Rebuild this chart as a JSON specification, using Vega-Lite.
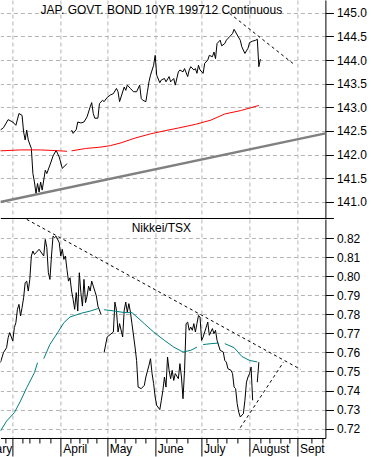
{
  "$schema": "https://vega.github.io/schema/vega-lite/v6.json",
  "padding": {"left": -36.6, "top": 0, "right": 0, "bottom": 0},
  "spacing": 0,
  "config": {
    "view": {"stroke": null},
    "font": "Liberation Sans",
    "axis": {"labelFont": "Liberation Sans", "labelFontSize": 12, "labelColor": "#000000", "domainColor": "#000000", "tickColor": "#000000", "gridColor": "#b4b4b4", "gridDash": [4, 3], "gridWidth": 1, "labelOverlap": false},
    "text": {"font": "Liberation Sans", "fontSize": 12, "color": "#000000"}
  },
  "datasets": {
    "jgb": [
      {"d": "1997-02-21", "v": 142.52}, {"d": "1997-02-23", "v": 142.57}, {"d": "1997-02-26", "v": 142.74},
      {"d": "1997-03-01", "v": 142.69}, {"d": "1997-03-03", "v": 142.62}, {"d": "1997-03-05", "v": 142.87},
      {"d": "1997-03-07", "v": 142.83}, {"d": "1997-03-08", "v": 142.48}, {"d": "1997-03-09", "v": 142.31},
      {"d": "1997-03-10", "v": 142.52}, {"d": "1997-03-11", "v": 142.31}, {"d": "1997-03-13", "v": 142.13},
      {"d": "1997-03-14", "v": 141.60}, {"d": "1997-03-15", "v": 141.42}, {"d": "1997-03-16", "v": 141.18},
      {"d": "1997-03-17", "v": 141.39}, {"d": "1997-03-18", "v": 141.21}, {"d": "1997-03-19", "v": 141.42},
      {"d": "1997-03-20", "v": 141.25}, {"d": "1997-03-22", "v": 141.67}, {"d": "1997-03-23", "v": 141.60},
      {"d": "1997-03-25", "v": 141.78}, {"d": "1997-03-27", "v": 141.97}, {"d": "1997-03-29", "v": 142.09},
      {"d": "1997-03-31", "v": 141.95}, {"d": "1997-04-02", "v": 141.71}, {"d": "1997-04-03", "v": 141.74},
      {"d": "1997-04-05", "v": 141.81}, {"d": "1997-04-06", "v": null}, {"d": "1997-04-08", "v": 142.52},
      {"d": "1997-04-09", "v": 142.45}, {"d": "1997-04-11", "v": 142.53}, {"d": "1997-04-12", "v": 142.69},
      {"d": "1997-04-14", "v": 142.67}, {"d": "1997-04-16", "v": 142.69}, {"d": "1997-04-18", "v": 142.80},
      {"d": "1997-04-20", "v": 143.01}, {"d": "1997-04-21", "v": 143.10}, {"d": "1997-04-22", "v": 142.87},
      {"d": "1997-04-23", "v": 142.77}, {"d": "1997-04-25", "v": 142.77}, {"d": "1997-04-26", "v": 143.08},
      {"d": "1997-04-28", "v": 143.15}, {"d": "1997-04-29", "v": 143.12}, {"d": "1997-05-01", "v": 143.21},
      {"d": "1997-05-03", "v": 143.26}, {"d": "1997-05-05", "v": 143.29}, {"d": "1997-05-07", "v": 143.40},
      {"d": "1997-05-08", "v": 143.33}, {"d": "1997-05-09", "v": 143.12}, {"d": "1997-05-12", "v": 143.43},
      {"d": "1997-05-13", "v": 143.36}, {"d": "1997-05-14", "v": 143.47}, {"d": "1997-05-16", "v": 143.40},
      {"d": "1997-05-18", "v": 143.33}, {"d": "1997-05-20", "v": 143.33}, {"d": "1997-05-22", "v": 143.47},
      {"d": "1997-05-23", "v": 143.19}, {"d": "1997-05-24", "v": 143.15}, {"d": "1997-05-26", "v": 143.12},
      {"d": "1997-05-27", "v": 143.33}, {"d": "1997-05-28", "v": 143.54}, {"d": "1997-05-29", "v": 143.68},
      {"d": "1997-05-31", "v": 143.89}, {"d": "1997-06-01", "v": 144.10}, {"d": "1997-06-02", "v": 143.68},
      {"d": "1997-06-04", "v": 143.52}, {"d": "1997-06-05", "v": 143.58}, {"d": "1997-06-07", "v": 143.61},
      {"d": "1997-06-08", "v": 143.54}, {"d": "1997-06-10", "v": 143.65}, {"d": "1997-06-11", "v": 143.54},
      {"d": "1997-06-13", "v": 143.61}, {"d": "1997-06-14", "v": 143.47}, {"d": "1997-06-16", "v": 143.75},
      {"d": "1997-06-17", "v": 143.79}, {"d": "1997-06-19", "v": 143.75}, {"d": "1997-06-20", "v": 143.82},
      {"d": "1997-06-22", "v": 143.65}, {"d": "1997-06-23", "v": 143.79}, {"d": "1997-06-24", "v": 143.86},
      {"d": "1997-06-26", "v": 143.79}, {"d": "1997-06-27", "v": 143.82}, {"d": "1997-06-28", "v": 143.72},
      {"d": "1997-06-29", "v": 143.89}, {"d": "1997-06-30", "v": 143.79}, {"d": "1997-07-02", "v": 143.72},
      {"d": "1997-07-03", "v": 143.93}, {"d": "1997-07-05", "v": 144.00}, {"d": "1997-07-06", "v": 144.10},
      {"d": "1997-07-08", "v": 144.07}, {"d": "1997-07-09", "v": 144.17}, {"d": "1997-07-10", "v": 144.03},
      {"d": "1997-07-11", "v": 144.35}, {"d": "1997-07-13", "v": 144.42}, {"d": "1997-07-14", "v": 144.30},
      {"d": "1997-07-16", "v": 144.35}, {"d": "1997-07-17", "v": 144.42}, {"d": "1997-07-19", "v": 144.49},
      {"d": "1997-07-21", "v": 144.56}, {"d": "1997-07-22", "v": 144.65}, {"d": "1997-07-24", "v": 144.53},
      {"d": "1997-07-26", "v": 144.42}, {"d": "1997-07-27", "v": 144.28}, {"d": "1997-07-29", "v": 144.14},
      {"d": "1997-07-31", "v": 144.25}, {"d": "1997-08-01", "v": 144.37}, {"d": "1997-08-03", "v": 144.40},
      {"d": "1997-08-05", "v": 144.42}, {"d": "1997-08-06", "v": 144.44}, {"d": "1997-08-07", "v": 143.86},
      {"d": "1997-08-08", "v": 144.02}
    ],
    "jgbma": [
      {"d": "1997-02-21", "v": 142.08}, {"d": "1997-03-06", "v": 142.10}, {"d": "1997-03-19", "v": 142.10},
      {"d": "1997-04-01", "v": 142.08}, {"d": "1997-04-05", "v": 142.07}, {"d": "1997-04-06", "v": null},
      {"d": "1997-04-08", "v": 142.08}, {"d": "1997-04-17", "v": 142.13}, {"d": "1997-04-27", "v": 142.16},
      {"d": "1997-05-03", "v": 142.19}, {"d": "1997-05-10", "v": 142.25}, {"d": "1997-05-19", "v": 142.35},
      {"d": "1997-05-29", "v": 142.44}, {"d": "1997-06-08", "v": 142.51}, {"d": "1997-06-17", "v": 142.57},
      {"d": "1997-06-27", "v": 142.64}, {"d": "1997-07-07", "v": 142.73}, {"d": "1997-07-16", "v": 142.86},
      {"d": "1997-07-26", "v": 142.93}, {"d": "1997-08-07", "v": 143.04}
    ],
    "jgbtrend": [{"d": "1997-02-21", "v": 141.00}, {"d": "1997-09-19", "v": 142.45}],
    "jgbdash": [{"d": "1997-07-19", "v": 144.99}, {"d": "1997-08-29", "v": 143.93}],
    "nt": [
      {"d": "1997-02-21", "v": 0.7546}, {"d": "1997-02-23", "v": 0.7599}, {"d": "1997-02-25", "v": 0.7625},
      {"d": "1997-02-26", "v": 0.7677}, {"d": "1997-02-27", "v": 0.7704}, {"d": "1997-03-01", "v": 0.7660},
      {"d": "1997-03-02", "v": 0.7730}, {"d": "1997-03-03", "v": 0.7756}, {"d": "1997-03-04", "v": 0.7826},
      {"d": "1997-03-05", "v": 0.7852}, {"d": "1997-03-06", "v": 0.7791}, {"d": "1997-03-07", "v": 0.7835},
      {"d": "1997-03-08", "v": 0.7887}, {"d": "1997-03-09", "v": 0.7966}, {"d": "1997-03-10", "v": 0.7974},
      {"d": "1997-03-11", "v": 0.7922}, {"d": "1997-03-12", "v": 0.7983}, {"d": "1997-03-13", "v": 0.8106},
      {"d": "1997-03-14", "v": 0.8132}, {"d": "1997-03-15", "v": 0.8114}, {"d": "1997-03-16", "v": 0.8123},
      {"d": "1997-03-18", "v": 0.8141}, {"d": "1997-03-21", "v": 0.8106}, {"d": "1997-03-22", "v": 0.8193},
      {"d": "1997-03-23", "v": 0.8150}, {"d": "1997-03-24", "v": 0.8018}, {"d": "1997-03-25", "v": 0.7983},
      {"d": "1997-03-26", "v": 0.8106}, {"d": "1997-03-27", "v": 0.8210}, {"d": "1997-03-28", "v": 0.8202},
      {"d": "1997-03-29", "v": 0.8210}, {"d": "1997-03-31", "v": 0.8176}, {"d": "1997-04-01", "v": 0.8106},
      {"d": "1997-04-02", "v": 0.8141}, {"d": "1997-04-03", "v": 0.8088}, {"d": "1997-04-04", "v": 0.8106},
      {"d": "1997-04-05", "v": 0.8036}, {"d": "1997-04-06", "v": 0.7974}, {"d": "1997-04-07", "v": 0.7992},
      {"d": "1997-04-08", "v": 0.7922}, {"d": "1997-04-09", "v": 0.7878}, {"d": "1997-04-10", "v": 0.7826},
      {"d": "1997-04-11", "v": 0.7914}, {"d": "1997-04-12", "v": 0.7817}, {"d": "1997-04-13", "v": 0.8018},
      {"d": "1997-04-14", "v": 0.7914}, {"d": "1997-04-15", "v": 0.7843}, {"d": "1997-04-16", "v": 0.7983},
      {"d": "1997-04-17", "v": 0.7861}, {"d": "1997-04-18", "v": 0.7896}, {"d": "1997-04-19", "v": 0.7948},
      {"d": "1997-04-20", "v": 0.7922}, {"d": "1997-04-21", "v": 0.7974}, {"d": "1997-04-22", "v": 0.7948},
      {"d": "1997-04-23", "v": 0.7922}, {"d": "1997-04-24", "v": 0.7896}, {"d": "1997-04-25", "v": 0.7843},
      {"d": "1997-04-27", "v": 0.7800}, {"d": "1997-04-28", "v": null}, {"d": "1997-04-29", "v": 0.7599},
      {"d": "1997-05-01", "v": 0.7681}, {"d": "1997-05-05", "v": 0.7707}, {"d": "1997-05-06", "v": 0.7864},
      {"d": "1997-05-07", "v": 0.7821}, {"d": "1997-05-08", "v": 0.7707}, {"d": "1997-05-09", "v": 0.7751},
      {"d": "1997-05-11", "v": 0.7681}, {"d": "1997-05-12", "v": 0.7821}, {"d": "1997-05-13", "v": 0.7864},
      {"d": "1997-05-14", "v": 0.7812}, {"d": "1997-05-15", "v": 0.7856}, {"d": "1997-05-16", "v": 0.7812},
      {"d": "1997-05-17", "v": 0.7751}, {"d": "1997-05-19", "v": 0.7628}, {"d": "1997-05-20", "v": 0.7558},
      {"d": "1997-05-21", "v": 0.7418}, {"d": "1997-05-23", "v": 0.7410}, {"d": "1997-05-25", "v": 0.7427},
      {"d": "1997-05-26", "v": 0.7471}, {"d": "1997-05-28", "v": 0.7532}, {"d": "1997-05-29", "v": 0.7567},
      {"d": "1997-05-30", "v": 0.7489}, {"d": "1997-05-31", "v": 0.7436}, {"d": "1997-06-01", "v": 0.7366},
      {"d": "1997-06-02", "v": 0.7322}, {"d": "1997-06-04", "v": 0.7300}, {"d": "1997-06-05", "v": 0.7349},
      {"d": "1997-06-06", "v": 0.7401}, {"d": "1997-06-07", "v": 0.7471}, {"d": "1997-06-08", "v": 0.7418},
      {"d": "1997-06-09", "v": 0.7576}, {"d": "1997-06-10", "v": 0.7506}, {"d": "1997-06-11", "v": 0.7462},
      {"d": "1997-06-12", "v": 0.7506}, {"d": "1997-06-13", "v": 0.7453}, {"d": "1997-06-14", "v": 0.7489},
      {"d": "1997-06-16", "v": 0.7462}, {"d": "1997-06-17", "v": 0.7541}, {"d": "1997-06-18", "v": 0.7471},
      {"d": "1997-06-19", "v": 0.7357}, {"d": "1997-06-20", "v": 0.7506}, {"d": "1997-06-21", "v": 0.7751},
      {"d": "1997-06-22", "v": 0.7759}, {"d": "1997-06-23", "v": 0.7716}, {"d": "1997-06-24", "v": 0.7733},
      {"d": "1997-06-25", "v": 0.7716}, {"d": "1997-06-26", "v": 0.7751}, {"d": "1997-06-27", "v": 0.7707},
      {"d": "1997-06-28", "v": 0.7751}, {"d": "1997-06-29", "v": 0.7794}, {"d": "1997-06-30", "v": 0.7786},
      {"d": "1997-07-01", "v": 0.7663}, {"d": "1997-07-02", "v": 0.7681}, {"d": "1997-07-04", "v": 0.7733},
      {"d": "1997-07-05", "v": 0.7759}, {"d": "1997-07-06", "v": 0.7690}, {"d": "1997-07-08", "v": 0.7725},
      {"d": "1997-07-09", "v": 0.7698}, {"d": "1997-07-10", "v": 0.7716}, {"d": "1997-07-11", "v": 0.7663},
      {"d": "1997-07-13", "v": 0.7611}, {"d": "1997-07-15", "v": 0.7602}, {"d": "1997-07-16", "v": 0.7558},
      {"d": "1997-07-17", "v": 0.7549}, {"d": "1997-07-18", "v": 0.7515}, {"d": "1997-07-20", "v": 0.7506},
      {"d": "1997-07-21", "v": 0.7489}, {"d": "1997-07-22", "v": 0.7418}, {"d": "1997-07-23", "v": 0.7410},
      {"d": "1997-07-24", "v": 0.7331}, {"d": "1997-07-25", "v": 0.7287}, {"d": "1997-07-26", "v": 0.7261},
      {"d": "1997-07-28", "v": 0.7279}, {"d": "1997-07-29", "v": 0.7349}, {"d": "1997-07-30", "v": 0.7444},
      {"d": "1997-07-31", "v": 0.7471}, {"d": "1997-08-01", "v": 0.7489}, {"d": "1997-08-02", "v": 0.7523},
      {"d": "1997-08-03", "v": 0.7349}, {"d": "1997-08-04", "v": null}, {"d": "1997-08-06", "v": 0.7444},
      {"d": "1997-08-07", "v": 0.7549}
    ],
    "ntma": [
      {"d": "1997-02-21", "v": 0.7187}, {"d": "1997-02-25", "v": 0.7240}, {"d": "1997-03-02", "v": 0.7284},
      {"d": "1997-03-06", "v": 0.7345}, {"d": "1997-03-10", "v": 0.7415}, {"d": "1997-03-15", "v": 0.7494},
      {"d": "1997-03-17", "v": 0.7546}, {"d": "1997-03-19", "v": null}, {"d": "1997-03-21", "v": 0.7567},
      {"d": "1997-03-25", "v": 0.7642}, {"d": "1997-03-30", "v": 0.7704}, {"d": "1997-04-03", "v": 0.7756},
      {"d": "1997-04-07", "v": 0.7786}, {"d": "1997-04-14", "v": 0.7805}, {"d": "1997-04-20", "v": 0.7817},
      {"d": "1997-04-25", "v": 0.7830}, {"d": "1997-04-27", "v": null}, {"d": "1997-04-29", "v": 0.7824},
      {"d": "1997-05-06", "v": 0.7817}, {"d": "1997-05-12", "v": 0.7809}, {"d": "1997-05-17", "v": 0.7809},
      {"d": "1997-05-25", "v": 0.7751}, {"d": "1997-05-31", "v": 0.7707}, {"d": "1997-06-07", "v": 0.7663},
      {"d": "1997-06-13", "v": 0.7628}, {"d": "1997-06-19", "v": 0.7602}, {"d": "1997-06-24", "v": 0.7611},
      {"d": "1997-06-28", "v": 0.7628}, {"d": "1997-06-30", "v": null}, {"d": "1997-07-02", "v": 0.7641},
      {"d": "1997-07-07", "v": 0.7646}, {"d": "1997-07-12", "v": 0.7649}, {"d": "1997-07-14", "v": null},
      {"d": "1997-07-16", "v": 0.7646}, {"d": "1997-07-22", "v": 0.7625}, {"d": "1997-07-27", "v": 0.7579},
      {"d": "1997-08-01", "v": 0.7558}, {"d": "1997-08-06", "v": 0.7550}
    ],
    "ntdash1": [{"d": "1997-03-10", "v": 0.8298}, {"d": "1997-09-03", "v": 0.7511}],
    "ntdash2": [{"d": "1997-07-26", "v": 0.7205}, {"d": "1997-08-23", "v": 0.7550}],
    "t1": [{"label": "JAP. GOVT. BOND 10YR 199712 Continuous"}],
    "t2": [{"label": "Nikkei/TSX"}]
  },
  "vconcat": [
    {
      "width": 325,
      "height": 218,
      "layer": [
        {
          "data": {"name": "jgb"},
          "mark": {"type": "line", "color": "#000000", "strokeWidth": 1, "clip": true, "invalid": "break-paths-show-domains"},
          "encoding": {
            "x": {"field": "d", "type": "temporal", "title": null,
              "scale": {"type": "utc", "domain": [{"year": 1997, "month": 2, "date": 21, "utc": true}, {"year": 1997, "month": 9, "date": 19, "utc": true}]},
              "axis": {"values": [
                {"year": 1997, "month": 3, "date": 1, "utc": true},
                {"year": 1997, "month": 4, "date": 1, "utc": true}, {"year": 1997, "month": 5, "date": 1, "utc": true},
                {"year": 1997, "month": 6, "date": 1, "utc": true}, {"year": 1997, "month": 7, "date": 1, "utc": true},
                {"year": 1997, "month": 8, "date": 1, "utc": true}, {"year": 1997, "month": 9, "date": 1, "utc": true}],
                "tickCount": 500, "ticks": false, "labels": false, "grid": true, "domain": true, "domainWidth": 1}},
            "y": {"field": "v", "type": "quantitative", "title": null,
              "scale": {"domain": [140.66, 145.27], "nice": false, "zero": false},
              "axis": {"orient": "right", "values": [140.66, 141, 141.5, 142, 142.5, 143, 143.5, 144, 144.5, 145],
                "tickCount": 500,
                "labelExpr": "datum.value < 140.9 ? '' : format(datum.value, '.1f')",
                "labelFontSize": {"condition": {"test": "datum.value < 140.9", "value": 0}, "value": 12},
                "grid": true, "tickSize": 8, "labelPadding": 3, "domainWidth": 1}}
          }
        },
        {
          "data": {"name": "jgbma"},
          "mark": {"type": "line", "color": "#ff0000", "strokeWidth": 1, "clip": true, "invalid": "break-paths-show-domains"},
          "encoding": {
            "x": {"field": "d", "type": "temporal", "title": null, "scale": {"type": "utc", "domain": [{"year": 1997, "month": 2, "date": 21, "utc": true}, {"year": 1997, "month": 9, "date": 19, "utc": true}]}},
            "y": {"field": "v", "type": "quantitative", "title": null, "scale": {"domain": [140.66, 145.27], "nice": false, "zero": false}}
          }
        },
        {
          "data": {"name": "jgbtrend"},
          "mark": {"type": "line", "color": "#808080", "strokeWidth": 2.5, "clip": true},
          "encoding": {
            "x": {"field": "d", "type": "temporal", "title": null, "scale": {"type": "utc", "domain": [{"year": 1997, "month": 2, "date": 21, "utc": true}, {"year": 1997, "month": 9, "date": 19, "utc": true}]}},
            "y": {"field": "v", "type": "quantitative", "title": null, "scale": {"domain": [140.66, 145.27], "nice": false, "zero": false}}
          }
        },
        {
          "data": {"name": "jgbdash"},
          "mark": {"type": "line", "color": "#000000", "strokeWidth": 1, "strokeDash": [3, 3], "clip": true},
          "encoding": {
            "x": {"field": "d", "type": "temporal", "title": null, "scale": {"type": "utc", "domain": [{"year": 1997, "month": 2, "date": 21, "utc": true}, {"year": 1997, "month": 9, "date": 19, "utc": true}]}},
            "y": {"field": "v", "type": "quantitative", "title": null, "scale": {"domain": [140.66, 145.27], "nice": false, "zero": false}}
          }
        },
        {
          "data": {"name": "t1"},
          "mark": {"type": "text", "align": "center", "baseline": "alphabetic", "fontSize": 12, "font": "Liberation Sans", "color": "#000000"},
          "encoding": {
            "x": {"datum": {"year": 1997, "month": 6, "date": 5, "utc": true}, "type": "temporal", "scale": {"type": "utc", "domain": [{"year": 1997, "month": 2, "date": 21, "utc": true}, {"year": 1997, "month": 9, "date": 19, "utc": true}]}},
            "y": {"datum": 144.975, "type": "quantitative", "scale": {"domain": [140.66, 145.27], "nice": false, "zero": false}},
            "text": {"field": "label"}
          }
        }
      ]
    },
    {
      "width": 325,
      "height": 219,
      "layer": [
        {
          "data": {"name": "nt"},
          "mark": {"type": "line", "color": "#000000", "strokeWidth": 1, "clip": true, "invalid": "break-paths-show-domains"},
          "encoding": {
            "x": {"field": "d", "type": "temporal", "title": null,
              "scale": {"type": "utc", "domain": [{"year": 1997, "month": 2, "date": 21, "utc": true}, {"year": 1997, "month": 9, "date": 19, "utc": true}]},
              "axis": {"values": [
                {"year": 1997, "month": 2, "date": 24, "utc": true},
                {"year": 1997, "month": 3, "date": 1, "utc": true}, {"year": 1997, "month": 3, "date": 7, "utc": true},
                {"year": 1997, "month": 3, "date": 12, "utc": true}, {"year": 1997, "month": 3, "date": 18, "utc": true},
                {"year": 1997, "month": 3, "date": 25, "utc": true}, {"year": 1997, "month": 4, "date": 1, "utc": true},
                {"year": 1997, "month": 4, "date": 7, "utc": true}, {"year": 1997, "month": 4, "date": 13, "utc": true},
                {"year": 1997, "month": 4, "date": 18, "utc": true}, {"year": 1997, "month": 4, "date": 24, "utc": true},
                {"year": 1997, "month": 5, "date": 1, "utc": true}, {"year": 1997, "month": 5, "date": 6, "utc": true},
                {"year": 1997, "month": 5, "date": 12, "utc": true}, {"year": 1997, "month": 5, "date": 19, "utc": true},
                {"year": 1997, "month": 5, "date": 26, "utc": true}, {"year": 1997, "month": 6, "date": 1, "utc": true},
                {"year": 1997, "month": 6, "date": 8, "utc": true}, {"year": 1997, "month": 6, "date": 15, "utc": true},
                {"year": 1997, "month": 6, "date": 22, "utc": true}, {"year": 1997, "month": 7, "date": 1, "utc": true},
                {"year": 1997, "month": 7, "date": 4, "utc": true}, {"year": 1997, "month": 7, "date": 11, "utc": true},
                {"year": 1997, "month": 7, "date": 17, "utc": true}, {"year": 1997, "month": 7, "date": 24, "utc": true},
                {"year": 1997, "month": 8, "date": 1, "utc": true}, {"year": 1997, "month": 8, "date": 8, "utc": true},
                {"year": 1997, "month": 8, "date": 14, "utc": true}, {"year": 1997, "month": 8, "date": 21, "utc": true},
                {"year": 1997, "month": 8, "date": 27, "utc": true}, {"year": 1997, "month": 9, "date": 1, "utc": true},
                {"year": 1997, "month": 9, "date": 10, "utc": true}, {"year": 1997, "month": 9, "date": 17, "utc": true}],
                "tickCount": 500,
                "grid": true,
                "gridOpacity": {"condition": {"test": "utcdate(datum.value) == 1", "value": 1}, "value": 0},
                "tickSize": {"condition": {"test": "utcdate(datum.value) == 1", "value": 18}, "value": 5},
                "labelExpr": "utcdate(datum.value) != 1 ? '' : (utcmonth(datum.value) == 2 ? 'February' : (utcmonth(datum.value) == 8 ? 'Sept' : utcFormat(datum.value, '%B')))",
                "labelAlign": {"condition": {"test": "utcmonth(datum.value) == 2 && utcdate(datum.value) == 1", "value": "right"}, "value": "left"},
                "labelOffset": {"condition": {"test": "utcmonth(datum.value) == 2 && utcdate(datum.value) == 1", "value": -1}, "value": 2},
                "labelBaseline": "alphabetic", "labelPadding": -3,
                "labelFlush": false, "labelBound": false, "domainWidth": 1}},
            "y": {"field": "v", "type": "quantitative", "title": null,
              "scale": {"domain": [0.7151, 0.83], "nice": false, "zero": false},
              "axis": {"orient": "right", "values": [0.72, 0.73, 0.74, 0.75, 0.76, 0.77, 0.78, 0.79, 0.80, 0.81, 0.82],
                "tickCount": 500,
                "format": ".2f", "grid": true, "tickSize": 8, "labelPadding": 3, "domainWidth": 1}}
          }
        },
        {
          "data": {"name": "ntma"},
          "mark": {"type": "line", "color": "#008080", "strokeWidth": 1, "clip": true, "invalid": "break-paths-show-domains"},
          "encoding": {
            "x": {"field": "d", "type": "temporal", "title": null, "scale": {"type": "utc", "domain": [{"year": 1997, "month": 2, "date": 21, "utc": true}, {"year": 1997, "month": 9, "date": 19, "utc": true}]}},
            "y": {"field": "v", "type": "quantitative", "title": null, "scale": {"domain": [0.7151, 0.83], "nice": false, "zero": false}}
          }
        },
        {
          "data": {"name": "ntdash1"},
          "mark": {"type": "line", "color": "#000000", "strokeWidth": 1, "strokeDash": [3, 3], "clip": true},
          "encoding": {
            "x": {"field": "d", "type": "temporal", "title": null, "scale": {"type": "utc", "domain": [{"year": 1997, "month": 2, "date": 21, "utc": true}, {"year": 1997, "month": 9, "date": 19, "utc": true}]}},
            "y": {"field": "v", "type": "quantitative", "title": null, "scale": {"domain": [0.7151, 0.83], "nice": false, "zero": false}}
          }
        },
        {
          "data": {"name": "ntdash2"},
          "mark": {"type": "line", "color": "#000000", "strokeWidth": 1, "strokeDash": [3, 3], "clip": true},
          "encoding": {
            "x": {"field": "d", "type": "temporal", "title": null, "scale": {"type": "utc", "domain": [{"year": 1997, "month": 2, "date": 21, "utc": true}, {"year": 1997, "month": 9, "date": 19, "utc": true}]}},
            "y": {"field": "v", "type": "quantitative", "title": null, "scale": {"domain": [0.7151, 0.83], "nice": false, "zero": false}}
          }
        },
        {
          "data": {"name": "t2"},
          "mark": {"type": "text", "align": "center", "baseline": "alphabetic", "fontSize": 12, "font": "Liberation Sans", "color": "#000000"},
          "encoding": {
            "x": {"datum": {"year": 1997, "month": 6, "date": 5, "utc": true}, "type": "temporal", "scale": {"type": "utc", "domain": [{"year": 1997, "month": 2, "date": 21, "utc": true}, {"year": 1997, "month": 9, "date": 19, "utc": true}]}},
            "y": {"datum": 0.8234, "type": "quantitative", "scale": {"domain": [0.7151, 0.83], "nice": false, "zero": false}},
            "text": {"field": "label"}
          }
        }
      ]
    }
  ]
}
